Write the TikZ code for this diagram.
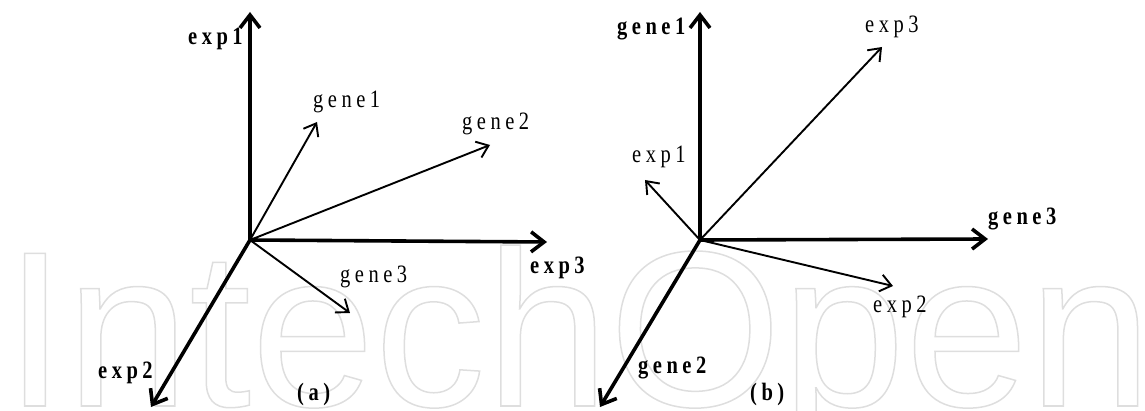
\documentclass[tikz,border=0pt]{standalone}
\usepackage{fontspec}
\usetikzlibrary{arrows.meta}
\newfontfamily\labfont[FakeStretch=0.82,LetterSpace=18]{Liberation Serif}
\newfontfamily\wmfont{Liberation Sans}
\definecolor{wmgray}{gray}{0.87}
\tikzset{
  axis/.style={line width=3.6pt, -{Straight Barb[length=13pt,width=20pt]}},
  vec/.style={line width=1.9pt, -{Straight Barb[length=11pt,width=17pt]}},
  lab/.style={font=\labfont\fontsize{25}{25}\selectfont, inner sep=0pt, anchor=base west},
  blab/.style={font=\labfont\bfseries\fontsize{25}{25}\selectfont, inner sep=0pt, anchor=base west},
}
\begin{document}
\begin{tikzpicture}[x=1pt,y=-1pt]
\useasboundingbox (0,0) rectangle (1145,411);
% watermark
\node[inner sep=0pt, anchor=base west, text=wmgray] (wm) at (4,406)
  {\special{pdf:literal direct 1 Tr 1.5 w}\wmfont\fontsize{222}{222}\selectfont IntechOpen\special{pdf:literal direct 0 Tr}};
% panel (a)
\coordinate (Oa) at (250,240);
\coordinate (ax1) at (250,12);
\coordinate (ax3) at (547,242);
\coordinate (ax2) at (151,407);
\coordinate (ag1) at (317,122);
\coordinate (ag2) at (490,145);
\coordinate (ag3) at (350,313);
\draw[axis] (Oa) -- (ax1);
\draw[axis] (Oa) -- (ax3);
\draw[axis] (Oa) -- (ax2);
\draw[vec] (Oa) -- (ag1);
\draw[vec] (Oa) -- (ag2);
\draw[vec] (Oa) -- (ag3);
\node[blab] (lexp1a) at (188,45) {exp1};
\node[blab] (lexp3a) at (530,274) {exp3};
\node[blab] (lexp2a) at (98,378) {exp2};
\node[lab] (lg1a) at (313,108) {gene1};
\node[lab] (lg2a) at (462,130) {gene2};
\node[lab] (lg3a) at (340,283) {gene3};
\node[blab] (capa) at (297,400) {(a)};
% panel (b)
\coordinate (Ob) at (700,240);
\coordinate (bx1) at (700,12);
\coordinate (bx3) at (988,239);
\coordinate (bx2) at (600,407);
\coordinate (be3) at (882,47);
\coordinate (be1) at (645,180);
\coordinate (be2) at (893,286);
\draw[axis] (Ob) -- (bx1);
\draw[axis] (Ob) -- (bx3);
\draw[axis] (Ob) -- (bx2);
\draw[vec] (Ob) -- (be3);
\draw[vec] (Ob) -- (be1);
\draw[vec] (Ob) -- (be2);
\node[blab] (lg1b) at (617,35) {gene1};
\node[blab] (lg3b) at (988,225) {gene3};
\node[blab] (lg2b) at (638,373) {gene2};
\node[lab] (le3b) at (865,33) {exp3};
\node[lab] (le1b) at (632,163) {exp1};
\node[lab] (le2b) at (873,313) {exp2};
\node[blab] (capb) at (750,400) {(b)};
\end{tikzpicture}
\end{document}
